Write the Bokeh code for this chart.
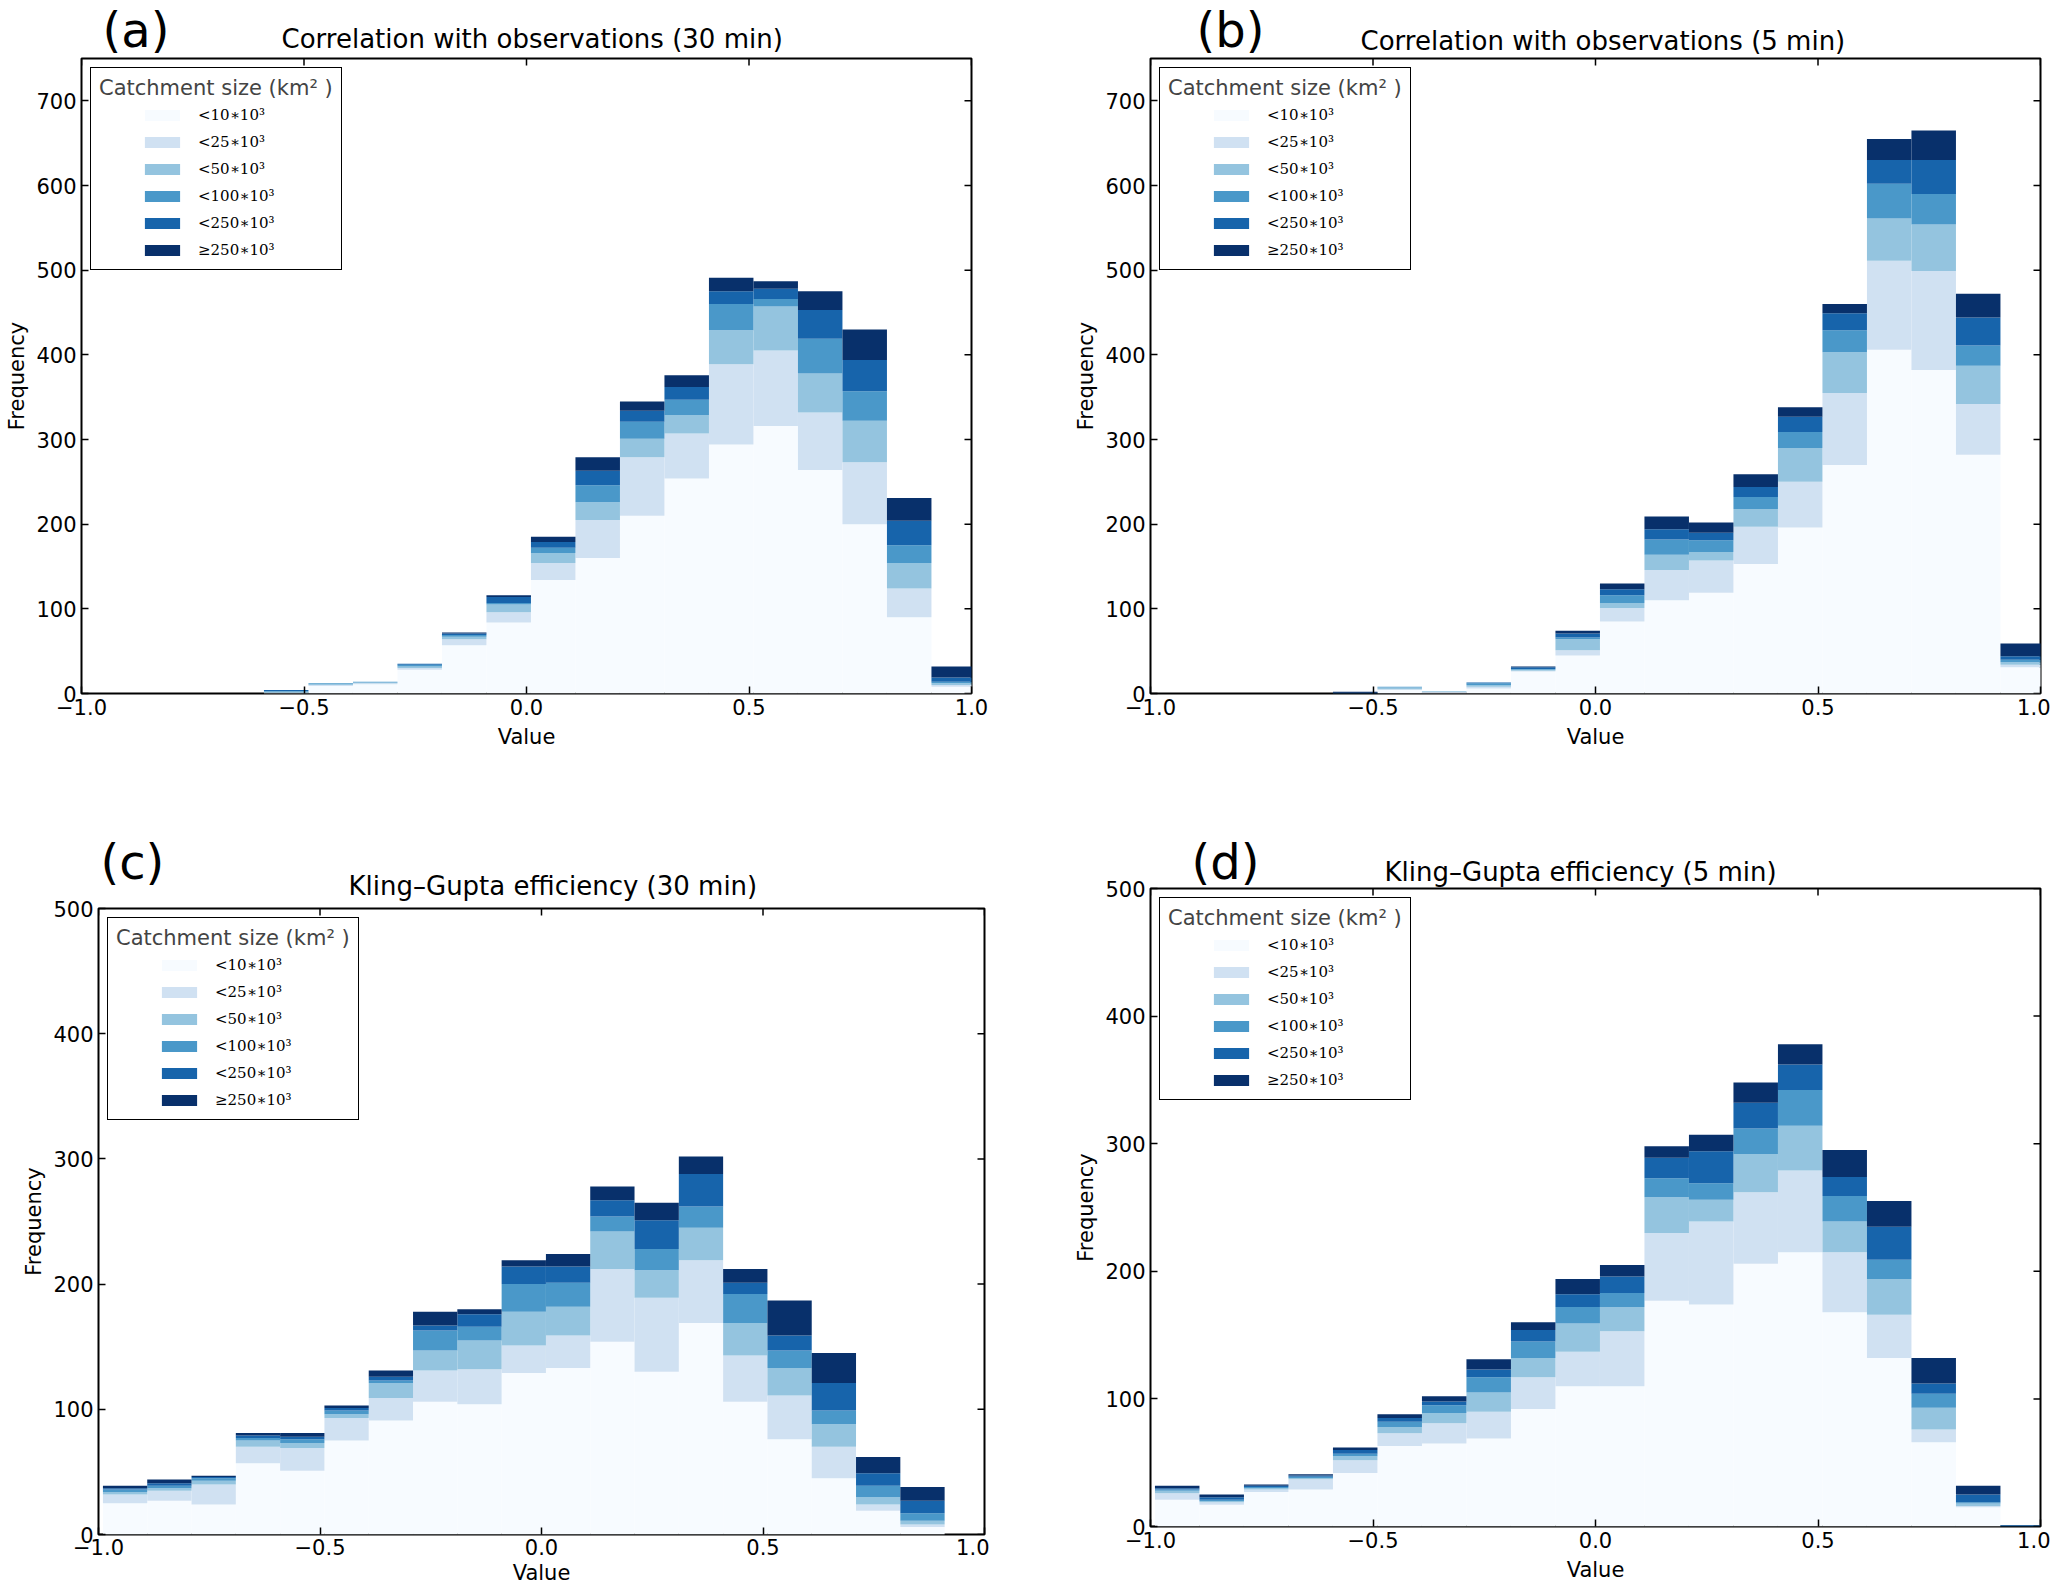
import numpy as np
from bokeh.plotting import figure
from bokeh.models import (ColumnDataSource, Range1d, FixedTicker,
                          Legend, LegendItem, Title)
from bokeh.layouts import row, column
from bokeh.embed import file_html
from bokeh.resources import INLINE

# ---------------- data ----------------
bin_edges = [-0.99, -0.89, -0.79, -0.69, -0.59, -0.49, -0.39, -0.29, -0.19, -0.09,
             0.01, 0.11, 0.21, 0.31, 0.41, 0.51, 0.61, 0.71, 0.81, 0.91, 1.01]

class_labels = ["<10∗10³", "<25∗10³", "<50∗10³", "<100∗10³", "<250∗10³", "≥250∗10³"]
class_colors = ["#f7fbff", "#d0e1f2", "#94c4df", "#4a98c9", "#1764ab", "#08306b"]

x_ticks = [-1.0, -0.5, 0.0, 0.5, 1.0]
x_tick_labels = ["−1.0", "−0.5", "0.0", "0.5", "1.0"]
y_ticks_corr = [0, 100, 200, 300, 400, 500, 600, 700]
y_ticks_kge = [0, 100, 200, 300, 400, 500]

# (a) Correlation with observations (30 min)
a_lt10 = [0, 0, 0, 0, 1, 9, 11, 28, 57, 84, 134, 160, 210, 254, 294, 316, 264, 200, 90, 8]
a_lt25 = [0, 0, 0, 0, 0, 1, 1, 2, 7, 12, 20, 45, 69, 53, 95, 89, 68, 73, 34, 2]
a_lt50 = [0, 0, 0, 0, 1, 1, 1, 2, 3, 9, 12, 21, 22, 22, 40, 52, 46, 49, 30, 2]
a_lt100 = [0, 0, 0, 0, 1, 1, 1, 2, 2, 2, 6, 20, 20, 18, 31, 9, 41, 35, 21, 2]
a_lt250 = [0, 0, 0, 0, 1, 0, 0, 1, 2, 7, 7, 17, 13, 15, 15, 12, 34, 37, 29, 5]
a_ge250 = [0, 0, 0, 0, 0, 0, 0, 0, 1, 2, 6, 16, 11, 14, 16, 9, 22, 36, 27, 13]

# (b) Correlation with observations (5 min)
b_lt10 = [0, 0, 0, 0, 0, 4, 1, 6, 26, 45, 85, 110, 119, 153, 196, 270, 406, 382, 282, 31]
b_lt25 = [0, 0, 0, 0, 0, 1, 1, 2, 1, 6, 16, 36, 38, 44, 54, 85, 105, 117, 60, 3]
b_lt50 = [0, 0, 0, 0, 0, 2, 1, 2, 1, 13, 6, 18, 10, 21, 40, 48, 50, 55, 45, 3]
b_lt100 = [0, 0, 0, 0, 0, 1, 0, 2, 1, 2, 9, 18, 14, 14, 19, 26, 41, 36, 24, 3]
b_lt250 = [0, 0, 0, 0, 1, 0, 0, 1, 2, 5, 7, 12, 9, 12, 18, 20, 28, 40, 33, 4]
b_ge250 = [0, 0, 0, 0, 1, 0, 0, 0, 1, 3, 7, 15, 12, 15, 11, 11, 25, 35, 28, 15]

# (c) Kling-Gupta efficiency (30 min)
c_lt10 = [25, 27, 24, 57, 51, 75, 91, 106, 104, 129, 133, 154, 130, 169, 106, 76, 45, 19, 6, 0]
c_lt25 = [7, 8, 16, 13, 18, 18, 18, 25, 28, 22, 26, 58, 59, 50, 37, 35, 25, 5, 2, 0]
c_lt50 = [2, 2, 3, 5, 4, 3, 12, 16, 23, 27, 23, 30, 22, 26, 26, 22, 18, 6, 3, 0]
c_lt100 = [2, 2, 2, 2, 3, 3, 2, 16, 11, 22, 19, 12, 17, 17, 23, 14, 11, 9, 6, 0]
c_lt250 = [1, 2, 1, 2, 2, 2, 3, 4, 10, 14, 13, 13, 23, 26, 9, 12, 22, 10, 10, 0]
c_ge250 = [2, 3, 1, 2, 3, 2, 5, 11, 4, 5, 10, 11, 14, 14, 11, 28, 24, 13, 11, 0]

# (d) Kling-Gupta efficiency (5 min)
d_lt10 = [21, 17, 27, 29, 42, 63, 65, 69, 92, 110, 110, 177, 174, 206, 215, 168, 132, 66, 15, 0]
d_lt25 = [5, 2, 2, 8, 10, 10, 16, 21, 25, 27, 43, 53, 65, 56, 64, 47, 34, 10, 1, 0]
d_lt50 = [2, 1, 1, 1, 3, 5, 8, 15, 15, 22, 19, 28, 17, 30, 35, 24, 28, 17, 2, 0]
d_lt100 = [1, 1, 1, 1, 2, 4, 6, 12, 13, 13, 11, 15, 13, 20, 28, 20, 15, 11, 1, 0]
d_lt250 = [1, 2, 1, 1, 3, 3, 3, 6, 9, 10, 13, 16, 25, 20, 20, 15, 26, 8, 6, 1]
d_ge250 = [2, 2, 1, 1, 2, 3, 4, 8, 6, 12, 9, 9, 13, 16, 16, 21, 20, 20, 7, 0]

FONT = "DejaVu Sans"
TICK_PX = 7


def style_axis(ax, ticks):
    ax.ticker = FixedTicker(ticks=ticks)
    ax.major_tick_in = TICK_PX
    ax.major_tick_out = 0
    ax.minor_tick_in = 0
    ax.minor_tick_out = 0
    ax.major_tick_line_color = "black"
    ax.major_tick_line_width = 1.5
    ax.axis_line_color = None
    ax.major_label_text_font = FONT
    ax.major_label_text_color = "black"
    ax.major_label_text_font_size = "21px"
    ax.major_label_standoff = 5
    ax.axis_label_text_font = FONT
    ax.axis_label_text_font_size = "21px"
    ax.axis_label_text_font_style = "normal"
    ax.axis_label_text_color = "black"


def make_panel(title, title_offset, title_standoff,
               tag, tag_offset, tag_standoff,
               counts, y_end, y_ticks, fw, fh, bl, bt, br, bb, x_std=(5, 7)):
    p = figure(frame_width=fw, frame_height=fh,
               min_border_left=bl, min_border_top=bt,
               min_border_right=br, min_border_bottom=bb,
               x_range=Range1d(-1, 1), y_range=Range1d(0, y_end),
               output_backend="svg", toolbar_location=None, tools="",
               title=None)
    p.xgrid.visible = False
    p.ygrid.visible = False
    p.outline_line_color = "black"
    p.outline_line_width = 2
    p.outline_line_alpha = 1
    p.background_fill_color = "white"
    p.border_fill_color = "white"

    style_axis(p.xaxis[0], x_ticks)
    p.xaxis[0].major_label_overrides = dict(zip(x_ticks, x_tick_labels))
    p.xaxis[0].axis_label = "Value"
    p.xaxis[0].major_label_standoff = x_std[0]
    p.xaxis[0].axis_label_standoff = x_std[1]
    style_axis(p.yaxis[0], y_ticks)
    p.yaxis[0].axis_label = "Frequency"
    p.yaxis[0].axis_label_standoff = 4

    # titles: main title (inner) and panel tag (outer, pulled down beside it)
    p.add_layout(Title(text=title, align="left", offset=title_offset,
                       vertical_align="top", standoff=title_standoff,
                       text_font=FONT, text_font_size="26px",
                       text_font_style="normal", text_color="black"), "above")
    p.add_layout(Title(text=tag, align="left", offset=tag_offset,
                       vertical_align="bottom", standoff=tag_standoff,
                       text_font=FONT, text_font_size="48px",
                       text_font_style="normal", text_color="black"), "above")

    left = np.array(bin_edges[:-1])
    right = np.array(bin_edges[1:])
    bottoms = np.zeros(len(left))
    renderers = []
    for vals, color in zip(counts, class_colors):
        tops = bottoms + np.array(vals, dtype=float)
        src = ColumnDataSource(dict(left=left, right=right,
                                    bottom=bottoms.copy(), top=tops))
        r = p.quad(left="left", right="right", bottom="bottom", top="top",
                   source=src, fill_color=color, line_color=None)
        renderers.append(r)
        bottoms = tops

    # inward ticks on the top and right edges of the frame
    dy = TICK_PX * y_end / fh
    dx = TICK_PX * 2.0 / fw
    xt = np.array(x_ticks)
    yt = np.array(y_ticks, dtype=float)
    p.segment(x0=xt, y0=np.full(len(xt), float(y_end)), x1=xt,
              y1=np.full(len(xt), y_end - dy), line_color="black", line_width=1.5)
    p.segment(x0=np.full(len(yt), 1.0), y0=yt, x1=np.full(len(yt), 1.0 - dx),
              y1=yt, line_color="black", line_width=1.5)

    # legend frame with title
    dummy = p.scatter(x=[], y=[], alpha=0)
    box = Legend(items=[LegendItem(label=" ", renderers=[dummy])],
                 location="top_left", margin=9, padding=8,
                 title="Catchment size (km² )",
                 title_text_font=FONT, title_text_font_size="21px",
                 title_text_font_style="normal", title_standoff=5,
                 label_height=156, glyph_width=5, glyph_height=5,
                 label_text_font_size="10px",
                 border_line_color="black", border_line_width=1.5,
                 border_line_alpha=1,
                 background_fill_color="white", background_fill_alpha=1)
    p.add_layout(box)
    # legend entries
    items = Legend(items=[LegendItem(label=lab, renderers=[r])
                          for lab, r in zip(class_labels, renderers)],
                   location=(59, fh - 202), margin=0, padding=0, spacing=7,
                   glyph_width=44, glyph_height=14, label_height=20,
                   label_standoff=14, label_text_font="DejaVu Serif",
                   label_text_font_size="15px", label_text_color="black",
                   border_line_color=None, background_fill_alpha=0)
    p.add_layout(items)
    return p


pa = make_panel("Correlation with observations (30 min)", 200, 6, "(a)", 21, -74,
                [a_lt10, a_lt25, a_lt50, a_lt100, a_lt250, a_ge250],
                750, y_ticks_corr, 890, 635, 81, 58, 20, 97)
pb = make_panel("Correlation with observations (5 min)", 210, 2, "(b)", 46, -66,
                [b_lt10, b_lt25, b_lt50, b_lt100, b_lt250, b_ge250],
                750, y_ticks_corr, 890, 635, 159, 58, 10, 97)
pc = make_panel("Kling–Gupta efficiency (30 min)", 250, 12, "(c)", 2, -50,
                [c_lt10, c_lt25, c_lt50, c_lt100, c_lt250, c_ge250],
                500, y_ticks_kge, 886, 626, 98, 118, 5, 57, x_std=(4, 3))
pd = make_panel("Kling–Gupta efficiency (5 min)", 234, -1, "(d)", 41, -64,
                [d_lt10, d_lt25, d_lt50, d_lt100, d_lt250, d_ge250],
                500, y_ticks_kge, 890, 638, 161, 98, 10, 65)

layout = column(row(column(pa), column(pb)), row(column(pc), column(pd)))
open("out.html", "w").write(file_html(layout, INLINE))
